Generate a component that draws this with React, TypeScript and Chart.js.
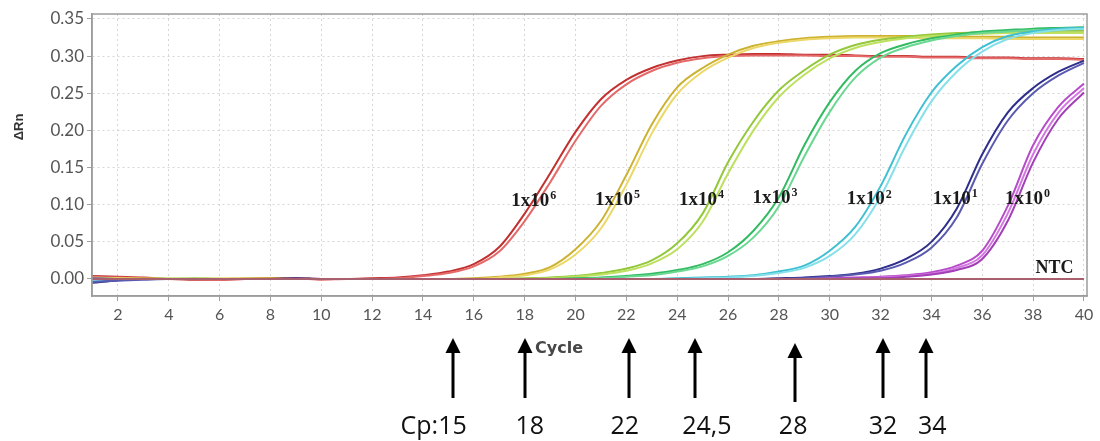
import React, { useEffect, useRef } from 'react';
import { Chart, registerables } from 'chart.js';

Chart.register(...registerables);

// ---- data ----
const cycles = [
  1, 2, 3, 4, 5, 6, 7, 8, 9, 10,
  11, 12, 13, 14, 15, 16, 17, 18, 19, 20,
  21, 22, 23, 24, 25, 26, 27, 28, 29, 30,
  31, 32, 33, 34, 35, 36, 37, 38, 39, 40,
];

const xTicks = [2, 4, 6, 8, 10, 12, 14, 16, 18, 20, 22, 24, 26, 28, 30, 32, 34, 36, 38, 40];
const yTicks = [0, 0.05, 0.1, 0.15, 0.2, 0.25, 0.3, 0.35];

// 1x10^6 (red)
const e6RepA = [
  0.004, 0.003, 0.002, 0.000, -0.001, -0.001, 0.000, 0.001, 0.001, 0.000,
  0.000, 0.001, 0.002, 0.005, 0.010, 0.020, 0.043, 0.088, 0.142, 0.198,
  0.242, 0.268, 0.284, 0.294, 0.300, 0.302, 0.303, 0.303, 0.302, 0.302,
  0.301, 0.300, 0.300, 0.299, 0.299, 0.298, 0.298, 0.297, 0.297, 0.296,
];
const e6RepB = [
  0.003, 0.002, 0.001, 0.000, 0.000, -0.001, 0.000, 0.000, 0.001, -0.001,
  0.000, 0.000, 0.001, 0.004, 0.008, 0.017, 0.037, 0.078, 0.130, 0.186,
  0.233, 0.262, 0.280, 0.291, 0.297, 0.300, 0.301, 0.301, 0.301, 0.300,
  0.300, 0.299, 0.299, 0.298, 0.298, 0.297, 0.297, 0.296, 0.296, 0.295,
];
// 1x10^5 (yellow)
const e5RepA = [
  0.002, 0.001, 0.001, 0.000, 0.000, 0.000, 0.001, 0.001, 0.000, 0.000,
  0.000, 0.000, 0.000, 0.000, 0.000, 0.001, 0.003, 0.007, 0.016, 0.040,
  0.078, 0.140, 0.208, 0.258, 0.284, 0.302, 0.314, 0.320, 0.324, 0.326,
  0.327, 0.327, 0.327, 0.327, 0.326, 0.326, 0.326, 0.325, 0.325, 0.325,
];
const e5RepB = [
  0.001, 0.001, 0.000, 0.000, 0.000, 0.001, 0.000, 0.000, 0.000, 0.000,
  0.000, 0.000, 0.000, 0.000, 0.000, 0.000, 0.002, 0.005, 0.013, 0.033,
  0.068, 0.127, 0.196, 0.249, 0.279, 0.298, 0.311, 0.318, 0.322, 0.324,
  0.325, 0.325, 0.325, 0.324, 0.324, 0.324, 0.323, 0.323, 0.323, 0.323,
];
// 1x10^4 (yellow-green)
const e4RepA = [
  0.001, 0.000, 0.000, 0.000, 0.001, 0.000, 0.000, 0.000, 0.000, 0.000,
  0.000, 0.000, 0.000, 0.000, 0.000, 0.000, 0.000, 0.001, 0.002, 0.004,
  0.008, 0.014, 0.025, 0.048, 0.088, 0.157, 0.212, 0.254, 0.281, 0.302,
  0.315, 0.322, 0.326, 0.329, 0.331, 0.332, 0.333, 0.333, 0.334, 0.334,
];
const e4RepB = [
  0.000, 0.000, 0.000, 0.001, 0.000, 0.000, 0.000, 0.000, 0.000, 0.000,
  0.000, 0.000, 0.000, 0.000, 0.000, 0.000, 0.000, 0.000, 0.001, 0.003,
  0.006, 0.011, 0.021, 0.040, 0.077, 0.142, 0.200, 0.245, 0.275, 0.297,
  0.311, 0.319, 0.324, 0.327, 0.329, 0.330, 0.331, 0.331, 0.331, 0.331,
];
// 1x10^3 (green)
const e3RepA = [
  0.001, 0.000, 0.000, 0.000, 0.000, 0.000, 0.000, 0.000, 0.000, 0.000,
  0.000, 0.000, 0.000, 0.000, 0.000, 0.000, 0.000, 0.000, 0.000, 0.001,
  0.002, 0.004, 0.007, 0.012, 0.020, 0.036, 0.065, 0.110, 0.180, 0.238,
  0.280, 0.304, 0.316, 0.324, 0.329, 0.333, 0.335, 0.337, 0.338, 0.339,
];
const e3RepB = [
  0.000, 0.000, 0.000, 0.000, 0.000, 0.000, 0.000, 0.000, 0.000, 0.000,
  0.000, 0.000, 0.000, 0.000, 0.000, 0.000, 0.000, 0.000, 0.000, 0.000,
  0.001, 0.003, 0.005, 0.010, 0.017, 0.031, 0.056, 0.098, 0.165, 0.225,
  0.271, 0.298, 0.312, 0.321, 0.327, 0.331, 0.333, 0.335, 0.336, 0.337,
];
// 1x10^2 (cyan)
const e2RepA = [
  -0.002, -0.001, 0.000, 0.000, 0.000, 0.000, 0.000, 0.000, 0.000, 0.000,
  0.000, 0.000, 0.000, 0.000, 0.000, 0.000, 0.000, 0.000, 0.000, 0.000,
  0.000, 0.000, 0.000, 0.001, 0.002, 0.003, 0.005, 0.010, 0.018, 0.038,
  0.070, 0.125, 0.195, 0.251, 0.287, 0.312, 0.327, 0.333, 0.337, 0.338,
];
const e2RepB = [
  -0.001, 0.000, 0.000, 0.000, 0.000, 0.000, 0.000, 0.000, 0.000, 0.000,
  0.000, 0.000, 0.000, 0.000, 0.000, 0.000, 0.000, 0.000, 0.000, 0.000,
  0.000, 0.000, 0.000, 0.000, 0.001, 0.002, 0.004, 0.008, 0.015, 0.031,
  0.060, 0.111, 0.180, 0.239, 0.279, 0.306, 0.323, 0.331, 0.335, 0.337,
];
// 1x10^1 (navy)
const e1RepA = [
  -0.005, -0.002, 0.000, 0.000, 0.000, 0.000, 0.000, 0.000, 0.001, 0.000,
  0.000, 0.000, 0.000, 0.000, 0.000, 0.000, 0.000, 0.000, 0.000, 0.000,
  0.000, 0.000, 0.000, 0.000, 0.000, 0.000, 0.000, 0.001, 0.002, 0.004,
  0.007, 0.014, 0.027, 0.050, 0.095, 0.168, 0.224, 0.257, 0.279, 0.294,
];
const e1RepB = [
  -0.004, -0.002, -0.001, 0.000, 0.000, 0.000, 0.000, 0.000, 0.000, 0.000,
  0.000, 0.000, 0.000, 0.000, 0.000, 0.000, 0.000, 0.000, 0.000, 0.000,
  0.000, 0.000, 0.000, 0.000, 0.000, 0.000, 0.000, 0.000, 0.001, 0.003,
  0.006, 0.011, 0.022, 0.042, 0.083, 0.155, 0.213, 0.250, 0.274, 0.291,
];
// 1x10^0 (magenta)
const e0RepA = [
  0.001, 0.000, 0.000, 0.000, 0.000, 0.000, 0.000, 0.000, 0.000, 0.000,
  0.000, 0.000, 0.000, 0.000, 0.000, 0.000, 0.000, 0.000, 0.000, 0.000,
  0.000, 0.000, 0.000, 0.000, 0.000, 0.000, 0.000, 0.000, 0.000, 0.001,
  0.002, 0.003, 0.005, 0.009, 0.018, 0.038, 0.098, 0.180, 0.232, 0.263,
];
const e0RepB = [
  0.000, 0.000, 0.000, 0.000, 0.000, 0.000, 0.000, 0.000, 0.000, 0.000,
  0.000, 0.000, 0.000, 0.000, 0.000, 0.000, 0.000, 0.000, 0.000, 0.000,
  0.000, 0.000, 0.000, 0.000, 0.000, 0.000, 0.000, 0.000, 0.000, 0.000,
  0.001, 0.002, 0.004, 0.007, 0.015, 0.032, 0.088, 0.168, 0.224, 0.257,
];
const e0RepC = [
  0.000, 0.000, 0.000, 0.000, 0.000, 0.000, 0.000, 0.000, 0.000, 0.000,
  0.000, 0.000, 0.000, 0.000, 0.000, 0.000, 0.000, 0.000, 0.000, 0.000,
  0.000, 0.000, 0.000, 0.000, 0.000, 0.000, 0.000, 0.000, 0.000, 0.000,
  0.001, 0.001, 0.003, 0.006, 0.012, 0.027, 0.078, 0.157, 0.216, 0.251,
];
// NTC
const ntc = [
  0, 0, 0, 0, 0, 0, 0, 0, 0, 0,
  0, 0, 0, 0, 0, 0, 0, 0, 0, 0,
  0, 0, 0, 0, 0, 0, 0, 0, 0, 0,
  0, 0, 0, 0, 0, 0, 0, 0, 0, 0,
];

// curve annotations (cycle, ΔRn)
const curveLabelBase = ['1x10', '1x10', '1x10', '1x10', '1x10', '1x10', '1x10'];
const curveLabelExp = ['6', '5', '4', '3', '2', '1', '0'];
const curveLabelCycle = [18.36, 21.65, 24.96, 27.85, 31.55, 34.94, 37.78];
const curveLabelValue = [0.1054, 0.106, 0.106, 0.109, 0.107, 0.108, 0.108];
const ntcLabel = 'NTC';
const ntcLabelCycle = 38.84;
const ntcLabelValue = 0.0148;

// Cp arrows below the axis
const cpArrowCycle = [15.18, 18.01, 22.11, 24.7, 28.64, 32.1, 33.8];
const cpLabelCycle = [14.42, 18.2, 21.94, 25.17, 28.56, 32.1, 34.03];
const cpLabels = ['Cp:15', '18', '22', '24,5', '28', '32', '34'];

const series: { name: string; values: number[]; color: string }[] = [
  { name: 'NTC', values: ntc, color: '#a8606e' },
  { name: '1x10^0 C', values: e0RepC, color: '#a23fb6' },
  { name: '1x10^0 B', values: e0RepB, color: '#d477e2' },
  { name: '1x10^0 A', values: e0RepA, color: '#b64cc8' },
  { name: '1x10^1 B', values: e1RepB, color: '#5a5ab0' },
  { name: '1x10^1 A', values: e1RepA, color: '#2e2e8c' },
  { name: '1x10^2 B', values: e2RepB, color: '#86e0ea' },
  { name: '1x10^2 A', values: e2RepA, color: '#3ec0d2' },
  { name: '1x10^3 B', values: e3RepB, color: '#6ad892' },
  { name: '1x10^3 A', values: e3RepA, color: '#32bb62' },
  { name: '1x10^4 B', values: e4RepB, color: '#bde060' },
  { name: '1x10^4 A', values: e4RepA, color: '#92c83a' },
  { name: '1x10^5 B', values: e5RepB, color: '#ecd868' },
  { name: '1x10^5 A', values: e5RepA, color: '#cdb232' },
  { name: '1x10^6 B', values: e6RepB, color: '#e46a6a' },
  { name: '1x10^6 A', values: e6RepA, color: '#c33030' },
];

const overlayPlugin = {
  id: 'overlay',
  afterDraw(chart: any) {
    const { ctx, chartArea: a, scales } = chart;
    const x = scales.x;
    const y = scales.y;
    ctx.save();

    // plot frame
    ctx.strokeStyle = '#9c9c9c';
    ctx.lineWidth = 1.5;
    ctx.strokeRect(a.left, a.top, a.right - a.left, a.bottom - a.top);

    // curve labels with superscript
    ctx.fillStyle = '#1a1a1a';
    ctx.textBaseline = 'middle';
    ctx.textAlign = 'left';
    for (let i = 0; i < curveLabelBase.length; i++) {
      const cx = x.getPixelForValue(curveLabelCycle[i]);
      const cy = y.getPixelForValue(curveLabelValue[i]);
      ctx.font = 'bold 19px "Liberation Serif", serif';
      const bw = ctx.measureText(curveLabelBase[i]).width;
      ctx.font = 'bold 12px "Liberation Serif", serif';
      const sw = ctx.measureText(curveLabelExp[i]).width;
      const left = cx - (bw + sw + 1) / 2;
      ctx.font = 'bold 19px "Liberation Serif", serif';
      ctx.fillText(curveLabelBase[i], left, cy);
      ctx.font = 'bold 12px "Liberation Serif", serif';
      ctx.fillText(curveLabelExp[i], left + bw + 1, cy - 5);
    }
    ctx.font = 'bold 18px "Liberation Serif", serif';
    ctx.textAlign = 'center';
    ctx.fillText(ntcLabel, x.getPixelForValue(ntcLabelCycle), y.getPixelForValue(ntcLabelValue));

    // y-axis title
    ctx.save();
    ctx.translate(19, 127);
    ctx.rotate(-Math.PI / 2);
    ctx.font = 'bold 13px "Liberation Sans", sans-serif';
    ctx.fillStyle = '#333';
    ctx.textAlign = 'center';
    ctx.textBaseline = 'middle';
    ctx.fillText('\u0394Rn', 0, 0);
    ctx.restore();

    // x-axis title
    ctx.font = 'bold 16px "DejaVu Sans", sans-serif';
    ctx.fillStyle = '#474747';
    ctx.textAlign = 'center';
    ctx.textBaseline = 'middle';
    ctx.fillText('Cycle', 559, 349);

    // arrows
    ctx.fillStyle = '#000';
    for (let i = 0; i < cpArrowCycle.length; i++) {
      const ax = Math.round(x.getPixelForValue(cpArrowCycle[i]));
      const tip = i === 4 ? 343 : 338;
      const bottom = i === 4 ? 402 : 398;
      const headBase = tip + 15;
      ctx.beginPath();
      ctx.moveTo(ax, tip);
      ctx.lineTo(ax + 7.5, headBase);
      ctx.lineTo(ax - 7.5, headBase);
      ctx.closePath();
      ctx.fill();
      ctx.fillRect(ax - 1.5, headBase - 1, 3, bottom - headBase + 1);
    }

    // Cp labels
    ctx.font = '25px "Open Sans", sans-serif';
    ctx.fillStyle = '#111';
    ctx.textAlign = 'center';
    ctx.textBaseline = 'alphabetic';
    for (let i = 0; i < cpLabels.length; i++) {
      ctx.fillText(cpLabels[i], x.getPixelForValue(cpLabelCycle[i]), 434);
    }

    ctx.restore();
  },
};

export default function App() {
  const canvasRef = useRef<HTMLCanvasElement | null>(null);

  useEffect(() => {
    const canvas = canvasRef.current;
    if (!canvas) return;
    const datasets = series.map((s) => ({
      label: s.name,
      data: cycles.map((c, i) => ({ x: c, y: s.values[i] })),
      borderColor: s.color,
      backgroundColor: s.color,
      borderWidth: 2,
      pointRadius: 0,
      fill: false,
      cubicInterpolationMode: 'monotone' as const,
    }));

    const chart = new Chart(canvas, {
      type: 'line',
      data: { datasets },
      options: {
        animation: false,
        responsive: false,
        maintainAspectRatio: false,
        events: [],
        layout: { padding: { left: 0, top: 14, right: 13, bottom: 0 } },
        plugins: {
          legend: { display: false },
          tooltip: { enabled: false },
          title: { display: false },
        },
        scales: {
          x: {
            type: 'linear',
            min: 0.98,
            max: 40.12,
            afterBuildTicks: (s: any) => {
              s.ticks = xTicks.map((v) => ({ value: v }));
            },
            afterFit: (s: any) => {
              s.height = 145;
            },
            ticks: {
              autoSkip: false,
              maxRotation: 0,
              padding: 4,
              color: '#555',
              font: { family: 'Lato', size: 16 },
              callback: (v: any) => String(v),
            },
            grid: {
              color: '#d6d6d6',
              lineWidth: 1,
              drawTicks: true,
              tickLength: 5,
              tickColor: '#a0a0a0',
            },
            border: { display: true, color: '#9c9c9c', width: 1.5, dash: [2, 3] },
          },
          y: {
            type: 'linear',
            min: -0.0229,
            max: 0.3567,
            afterBuildTicks: (s: any) => {
              s.ticks = yTicks.map((v) => ({ value: v }));
            },
            afterFit: (s: any) => {
              s.width = 92;
            },
            ticks: {
              padding: 3,
              color: '#555',
              font: { family: 'Lato', size: 17 },
              callback: (v: any) => Number(v).toFixed(2),
            },
            grid: {
              color: '#d6d6d6',
              lineWidth: 1,
              drawTicks: true,
              tickLength: 5,
              tickColor: '#a0a0a0',
            },
            border: { display: true, color: '#9c9c9c', width: 1.5, dash: [2, 3] },
          },
        },
      },
      plugins: [overlayPlugin],
    });

    return () => {
      chart.destroy();
    };
  }, []);

  return (
    <div style={{ position: 'absolute', left: 0, top: 0, width: 1100, height: 441, background: '#fff' }}>
      <canvas ref={canvasRef} width={1100} height={441} style={{ display: 'block' }} />
    </div>
  );
}
